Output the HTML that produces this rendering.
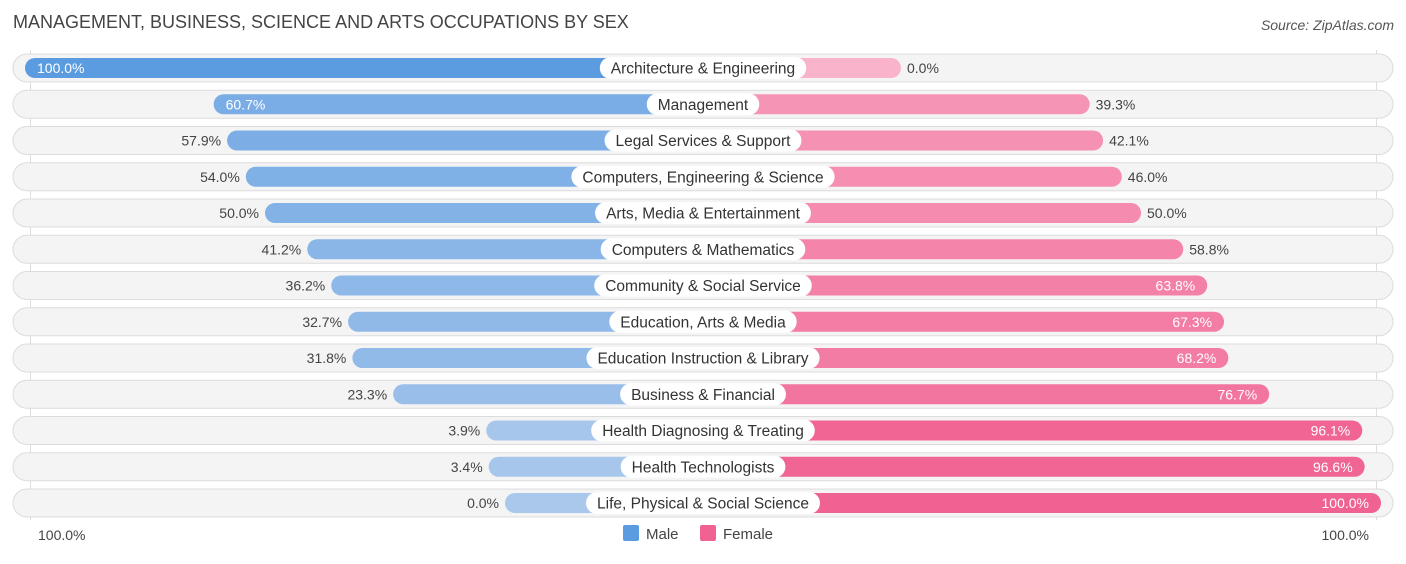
<!DOCTYPE html>
<html><head><meta charset="utf-8"><style>
body{margin:0;background:#fff;font-family:"Liberation Sans",Roboto,sans-serif;}
svg text{font-family:"Liberation Sans",sans-serif;}
</style></head><body>
<svg id="c" width="1406" height="559" xmlns="http://www.w3.org/2000/svg">
<text x="13" y="28" font-size="18" fill="#444">MANAGEMENT, BUSINESS, SCIENCE AND ARTS OCCUPATIONS BY SEX</text>
<text x="1394" y="30" font-size="14" fill="#555" font-style="italic" text-anchor="end">Source: ZipAtlas.com</text>
<line x1="30.5" y1="50" x2="30.5" y2="520" stroke="#ddd"/>
<line x1="1376.5" y1="50" x2="1376.5" y2="520" stroke="#ddd"/>
<g id="rows"></g>
<text x="38" y="540" font-size="14" fill="#444">100.0%</text>
<text x="1369" y="540" font-size="14" fill="#444" text-anchor="end">100.0%</text>
<g>
<rect x="623" y="525" width="16" height="16" rx="2" fill="#5b9be0"/>
<text x="646" y="539" font-size="15" fill="#444">Male</text>
<rect x="700" y="525" width="16" height="16" rx="2" fill="#f06292"/>
<text x="723" y="539" font-size="15" fill="#444">Female</text>
</g>
</svg>
<script>
const categories=["Architecture & Engineering","Management","Legal Services & Support","Computers, Engineering & Science","Arts, Media & Entertainment","Computers & Mathematics","Community & Social Service","Education, Arts & Media","Education Instruction & Library","Business & Financial","Health Diagnosing & Treating","Health Technologists","Life, Physical & Social Science"];
const maleValues=[100.0,60.7,57.9,54.0,50.0,41.2,36.2,32.7,31.8,23.3,3.9,3.4,0.0];
const femaleValues=[0.0,39.3,42.1,46.0,50.0,58.8,63.8,67.3,68.2,76.7,96.1,96.6,100.0];
const NS="http://www.w3.org/2000/svg";
const cx=703, base=198, scale=4.8, y0=68, pitch=36.25, bh=20;
const g=document.getElementById('rows');
function mk(t,a){const e=document.createElementNS(NS,t);for(const k in a)e.setAttribute(k,a[k]);return e;}
function mix(a,b,t){return 'rgb('+a.map((v,i)=>Math.round(v+(b[i]-v)*t)).join(',')+')';}
categories.forEach((cat,i)=>{
  const y=y0+i*pitch;
  const tr=mk('rect',{x:13,y:y-14,width:1380,height:28,rx:14,fill:'#f4f4f4',stroke:'#dcdcdc'});
  
  
  g.appendChild(tr);
  const m=maleValues[i], f=femaleValues[i];
  const ml=base+m*scale, fl=base+f*scale;
  const mb=mk('rect',{x:cx-ml,y:y-bh/2,width:ml,height:bh,rx:10,fill:mix([170,200,236],[91,155,224],m/100)});
  
  
  g.appendChild(mb);
  const fb=mk('rect',{x:cx,y:y-bh/2,width:fl,height:bh,rx:10,fill:mix([249,180,203],[240,98,146],f/100)});
  
  
  g.appendChild(fb);
  // male value label
  const mIn=m>=60;
  const mt=mk('text',{x:mIn?cx-ml+12:cx-ml-6,y:y+5,'font-size':14,fill:mIn?'#fff':'#444','text-anchor':mIn?'start':'end'});
  mt.textContent=m.toFixed(1)+'%';
  
  
  g.appendChild(mt);
  const fIn=f>=60;
  const ft=mk('text',{x:fIn?cx+fl-12:cx+fl+6,y:y+5,'font-size':14,fill:fIn?'#fff':'#444','text-anchor':fIn?'end':'start'});
  ft.textContent=f.toFixed(1)+'%';
  
  
  g.appendChild(ft);
  // category label
  const lt=mk('text',{x:cx,y:y+5.5,'font-size':15.5,fill:'#333','text-anchor':'middle'});
  lt.textContent=cat;
  g.appendChild(lt);
  const w=lt.getComputedTextLength()+22;
  const lb=mk('rect',{x:cx-w/2,y:y-11,width:w,height:22,rx:11,fill:'#fff'});
  
  
  g.insertBefore(lb,lt);
  
  
});
</script>
</body></html>
